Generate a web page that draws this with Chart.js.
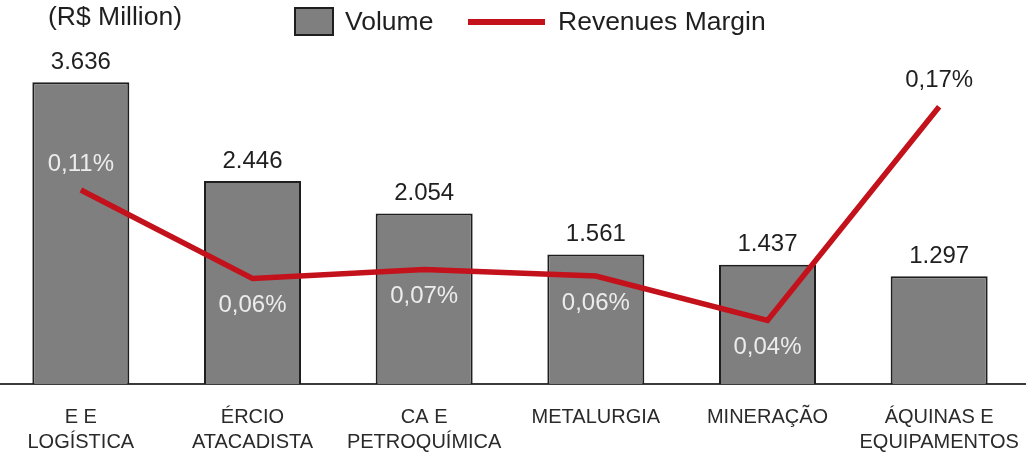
<!DOCTYPE html>
<html>
<head>
<meta charset="utf-8">
<script src="https://cdn.jsdelivr.net/npm/chart.js@4/dist/chart.umd.min.js"></script>
<style>
  html, body { margin: 0; padding: 0; background: #ffffff; overflow: hidden; }
  #wrap { position: absolute; left: -15px; top: 0; width: 1050px; height: 472px; }
</style>
</head>
<body>
<div id="wrap"><canvas id="c" width="1050" height="472"></canvas></div>
<script>
const categories = [
  ['E E', 'LOGÍSTICA'],
  ['ÉRCIO', 'ATACADISTA'],
  ['CA E', 'PETROQUÍMICA'],
  ['METALURGIA'],
  ['MINERAÇÃO'],
  ['ÁQUINAS E', 'EQUIPAMENTOS']
];
const volume = [3636, 2446, 2054, 1561, 1437, 1297];
const revenuesMargin = [0.1149, 0.0609, 0.0664, 0.0624, 0.0353, 0.1656];
const marginLabelAbove = [true, false, false, false, false, true];
const marginLabelDark = [false, false, false, false, false, true];
const titleText = '(R$ Million)';
const seriesNames = ['Volume', 'Revenues Margin'];

const FONT = '"Liberation Sans", Arial, Helvetica, sans-serif';
const BAR_FILL = '#7f7f7f';
const BAR_BORDER = '#1e1e1e';
const LINE_COLOR = '#c3121b';
const TEXT_DARK = '#1f1f1f';

function fmtVolume(v) {
  return String(v).replace(/\B(?=(\d{3})+(?!\d))/g, '.');
}
function fmtMargin(v) {
  return v.toFixed(2).replace('.', ',') + '%';
}

const labelsPlugin = {
  id: 'customLabels',
  afterDatasetsDraw(chart) {
    const ctx = chart.ctx;
    ctx.save();
    ctx.textAlign = 'center';
    ctx.textBaseline = 'middle';
    ctx.font = '24px ' + FONT;
    const barMeta = chart.getDatasetMeta(0);
    barMeta.data.forEach((el, i) => {
      ctx.fillStyle = TEXT_DARK;
      ctx.fillText(fmtVolume(volume[i]), el.x, el.y - 20);
    });
    const lineMeta = chart.getDatasetMeta(1);
    lineMeta.data.forEach((el, i) => {
      ctx.fillStyle = marginLabelDark[i] ? TEXT_DARK : '#ececec';
      const dy = marginLabelAbove[i] ? -26 : 27;
      ctx.fillText(fmtMargin(revenuesMargin[i]), el.x, el.y + dy);
    });
    ctx.restore();
  },
  afterDraw(chart) {
    const ctx = chart.ctx;
    const off = 15; // canvas is shifted 15px left of the page
    ctx.save();
    ctx.textBaseline = 'middle';
    ctx.textAlign = 'left';
    ctx.font = '26.5px ' + FONT;
    ctx.fillStyle = TEXT_DARK;
    ctx.fillText(titleText, 48 + off, 18);
    // legend: Volume
    ctx.fillStyle = BAR_FILL;
    ctx.fillRect(294 + off, 7, 40, 29);
    ctx.strokeStyle = BAR_BORDER;
    ctx.lineWidth = 2;
    ctx.strokeRect(295 + off, 8, 38, 27);
    ctx.fillStyle = TEXT_DARK;
    ctx.fillText(seriesNames[0], 345 + off, 23);
    // legend: Revenues Margin
    ctx.strokeStyle = LINE_COLOR;
    ctx.lineWidth = 6;
    ctx.beginPath();
    ctx.moveTo(468 + off, 22);
    ctx.lineTo(545 + off, 22);
    ctx.stroke();
    ctx.fillText(seriesNames[1], 558 + off, 23);
    ctx.restore();
  }
};

new Chart(document.getElementById('c'), {
  data: {
    labels: categories,
    datasets: [
      {
        type: 'bar',
        label: seriesNames[0],
        data: volume,
        yAxisID: 'y',
        backgroundColor: BAR_FILL,
        borderColor: BAR_BORDER,
        borderWidth: 2,
        barPercentage: 0.565,
        categoryPercentage: 1.0,
        order: 2
      },
      {
        type: 'line',
        label: seriesNames[1],
        data: revenuesMargin,
        yAxisID: 'y2',
        borderColor: LINE_COLOR,
        borderWidth: 5.5,
        pointRadius: 0,
        tension: 0,
        fill: false,
        order: 1
      }
    ]
  },
  options: {
    responsive: false,
    animation: false,
    layout: { padding: { left: 10, right: 10, top: 40, bottom: 0 } },
    plugins: {
      legend: { display: false },
      title: { display: false },
      tooltip: { enabled: false }
    },
    scales: {
      x: {
        type: 'category',
        grid: { display: false, drawTicks: true, tickLength: 21 },
        border: { display: true, color: '#3a3a3a', width: 2 },
        ticks: {
          color: '#2a2a2a',
          font: { family: FONT, size: 20, lineHeight: 1.25 },
          padding: 0,
          maxRotation: 0,
          autoSkip: false
        },
        afterFit(scale) { scale.height = 88; }
      },
      y: {
        display: false,
        min: 0,
        max: 4145
      },
      y2: {
        display: false,
        min: -0.0034,
        max: 0.2063
      }
    }
  },
  plugins: [labelsPlugin]
});
</script>
</body>
</html>
